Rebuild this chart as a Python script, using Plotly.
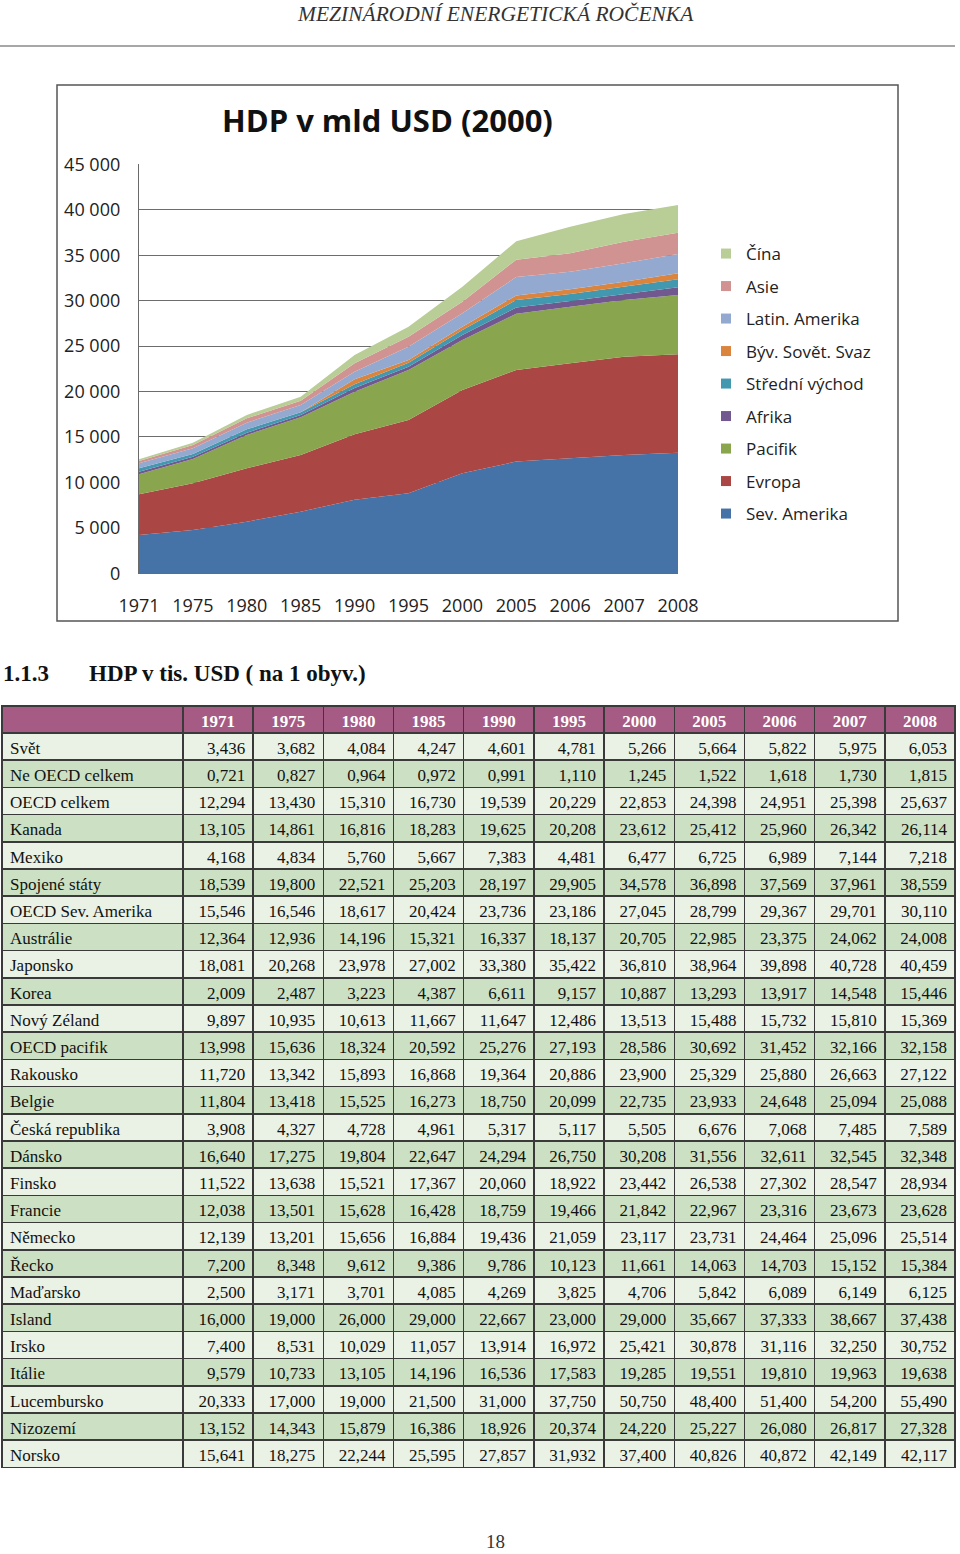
import plotly.graph_objects as go

W, H = 960, 1554

def px(x):
    return x / W

def py(y):
    return 1 - y / H

# ---------------- chart data (mld USD, 2000) ----------------
years = ["1971", "1975", "1980", "1985", "1990", "1995", "2000", "2005", "2006", "2007", "2008"]
sev_amerika = [4210, 4765, 5680, 6780, 8100, 8800, 11000, 12300, 12650, 13015, 13270]
evropa = [4480, 5135, 5870, 6235, 7200, 8070, 9170, 10070, 10450, 10815, 10820]
pacifik = [2200, 2670, 3670, 4145, 4680, 5500, 5500, 6180, 6230, 6240, 6530]
afrika = [290, 260, 250, 260, 420, 360, 550, 700, 630, 660, 850]
stredni_vychod = [370, 295, 370, 290, 400, 440, 550, 820, 770, 810, 880]
byv_sovet_svaz = [0, 0, 0, 0, 540, 300, 360, 500, 510, 540, 660]
latin_amerika = [550, 625, 730, 810, 840, 1460, 1470, 2030, 1940, 2030, 2120]
asie = [255, 365, 480, 470, 920, 1100, 1280, 1910, 2020, 2370, 2340]
cina = [185, 255, 370, 440, 920, 1100, 1650, 2030, 2930, 3050, 3050]

series_names = ["Sev. Amerika", "Evropa", "Pacifik", "Afrika", "Střední východ",
                "Býv. Sovět. Svaz", "Latin. Amerika", "Asie", "Čína"]
series_values = [sev_amerika, evropa, pacifik, afrika, stredni_vychod,
                 byv_sovet_svaz, latin_amerika, asie, cina]
series_colors = ["#4572A7", "#AA4643", "#89A54E", "#71588F", "#4198AF",
                 "#DB843D", "#93A9CF", "#D19392", "#B9CD96"]

# ---------------- table data (tis. USD na 1 obyv.) ----------------
table_years = ["1971", "1975", "1980", "1985", "1990", "1995", "2000", "2005", "2006", "2007", "2008"]
row_labels = ["Svět", "Ne OECD celkem", "OECD celkem", "Kanada", "Mexiko", "Spojené státy",
              "OECD Sev. Amerika", "Austrálie", "Japonsko", "Korea", "Nový Zéland",
              "OECD pacifik", "Rakousko", "Belgie", "Česká republika", "Dánsko", "Finsko",
              "Francie", "Německo", "Řecko", "Maďarsko", "Island", "Irsko", "Itálie",
              "Lucembursko", "Nizozemí", "Norsko"]
svet = [3.436, 3.682, 4.084, 4.247, 4.601, 4.781, 5.266, 5.664, 5.822, 5.975, 6.053]
ne_oecd = [0.721, 0.827, 0.964, 0.972, 0.991, 1.110, 1.245, 1.522, 1.618, 1.730, 1.815]
oecd = [12.294, 13.430, 15.310, 16.730, 19.539, 20.229, 22.853, 24.398, 24.951, 25.398, 25.637]
kanada = [13.105, 14.861, 16.816, 18.283, 19.625, 20.208, 23.612, 25.412, 25.960, 26.342, 26.114]
mexiko = [4.168, 4.834, 5.760, 5.667, 7.383, 4.481, 6.477, 6.725, 6.989, 7.144, 7.218]
usa = [18.539, 19.800, 22.521, 25.203, 28.197, 29.905, 34.578, 36.898, 37.569, 37.961, 38.559]
oecd_sev_amerika = [15.546, 16.546, 18.617, 20.424, 23.736, 23.186, 27.045, 28.799, 29.367, 29.701, 30.110]
australie = [12.364, 12.936, 14.196, 15.321, 16.337, 18.137, 20.705, 22.985, 23.375, 24.062, 24.008]
japonsko = [18.081, 20.268, 23.978, 27.002, 33.380, 35.422, 36.810, 38.964, 39.898, 40.728, 40.459]
korea = [2.009, 2.487, 3.223, 4.387, 6.611, 9.157, 10.887, 13.293, 13.917, 14.548, 15.446]
novy_zeland = [9.897, 10.935, 10.613, 11.667, 11.647, 12.486, 13.513, 15.488, 15.732, 15.810, 15.369]
oecd_pacifik = [13.998, 15.636, 18.324, 20.592, 25.276, 27.193, 28.586, 30.692, 31.452, 32.166, 32.158]
rakousko = [11.720, 13.342, 15.893, 16.868, 19.364, 20.886, 23.900, 25.329, 25.880, 26.663, 27.122]
belgie = [11.804, 13.418, 15.525, 16.273, 18.750, 20.099, 22.735, 23.933, 24.648, 25.094, 25.088]
cesko = [3.908, 4.327, 4.728, 4.961, 5.317, 5.117, 5.505, 6.676, 7.068, 7.485, 7.589]
dansko = [16.640, 17.275, 19.804, 22.647, 24.294, 26.750, 30.208, 31.556, 32.611, 32.545, 32.348]
finsko = [11.522, 13.638, 15.521, 17.367, 20.060, 18.922, 23.442, 26.538, 27.302, 28.547, 28.934]
francie = [12.038, 13.501, 15.628, 16.428, 18.759, 19.466, 21.842, 22.967, 23.316, 23.673, 23.628]
nemecko = [12.139, 13.201, 15.656, 16.884, 19.436, 21.059, 23.117, 23.731, 24.464, 25.096, 25.514]
recko = [7.200, 8.348, 9.612, 9.386, 9.786, 10.123, 11.661, 14.063, 14.703, 15.152, 15.384]
madarsko = [2.500, 3.171, 3.701, 4.085, 4.269, 3.825, 4.706, 5.842, 6.089, 6.149, 6.125]
island = [16.000, 19.000, 26.000, 29.000, 22.667, 23.000, 29.000, 35.667, 37.333, 38.667, 37.438]
irsko = [7.400, 8.531, 10.029, 11.057, 13.914, 16.972, 25.421, 30.878, 31.116, 32.250, 30.752]
italie = [9.579, 10.733, 13.105, 14.196, 16.536, 17.583, 19.285, 19.551, 19.810, 19.963, 19.638]
lucembursko = [20.333, 17.000, 19.000, 21.500, 31.000, 37.750, 50.750, 48.400, 51.400, 54.200, 55.490]
nizozemi = [13.152, 14.343, 15.879, 16.386, 18.926, 20.374, 24.220, 25.227, 26.080, 26.817, 27.328]
norsko = [15.641, 18.275, 22.244, 25.595, 27.857, 31.932, 37.400, 40.826, 40.872, 42.149, 42.117]

table_rows = [svet, ne_oecd, oecd, kanada, mexiko, usa, oecd_sev_amerika, australie, japonsko,
              korea, novy_zeland, oecd_pacifik, rakousko, belgie, cesko, dansko, finsko, francie,
              nemecko, recko, madarsko, island, irsko, italie, lucembursko, nizozemi, norsko]

def fmt(v):
    return f"{v:.3f}".replace(".", ",")

fig = go.Figure()

# stacked areas
for name, vals, col in zip(series_names, series_values, series_colors):
    fig.add_trace(go.Scatter(
        x=years, y=vals, name=name, mode="lines", stackgroup="one",
        line=dict(width=0, color=col), fillcolor=col, showlegend=False,
        hoverinfo="x+y+name"))

# legend entries (square markers), top entry = last stacked series
for i, (name, col) in enumerate(reversed(list(zip(series_names, series_colors)))):
    fig.add_trace(go.Scatter(
        x=[None], y=[None], name=name, mode="markers", legendgroup=f"g{i}",
        marker=dict(symbol="square", size=10, color=col), showlegend=True))

# table
n_cols = len(table_years)
cells_values = [row_labels] + [[fmt(r[j]) for r in table_rows] for j in range(n_cols)]
light, dark = "#EAF1E5", "#CCE1C3"
row_fill = [light if i % 2 == 0 else dark for i in range(len(row_labels))]
fig.add_trace(go.Table(
    domain=dict(x=[px(2), px(955)], y=[py(1470), py(706)]),
    columnwidth=[181] + [70.2] * n_cols,
    header=dict(values=[" "] + table_years,
                fill_color="#A65B84", align="center", height=27,
                line=dict(color="#3a3a3a", width=1.5),
                font=dict(family="Liberation Serif", size=17, color="white", weight="bold")),
    cells=dict(values=cells_values,
               fill_color=[row_fill] * (n_cols + 1),
               align=["left"] + ["right"] * n_cols, height=27.2,
               line=dict(color="#3a3a3a", width=1.5),
               font=dict(family="Liberation Serif", size=17, color="#111111")),
))

fig.update_layout(
    width=W, height=H, margin=dict(l=0, r=0, t=0, b=0, autoexpand=False),
    paper_bgcolor="white", plot_bgcolor="white",
    separators=", ",
    showlegend=True,
    legend=dict(x=px(706), y=py(236), xanchor="left", yanchor="top",
                traceorder="grouped", tracegroupgap=7.4,
                font=dict(family="Open Sans", size=17, color="#222222"),
                bgcolor="rgba(0,0,0,0)"),
    xaxis=dict(domain=[px(139), px(678)], range=[0, 10], type="category",
               showgrid=False, showline=True, linecolor="#6a6a6a", linewidth=1.3,
               ticks="", ticklabelstandoff=16, automargin=False,
               tickfont=dict(family="Open Sans", size=18, color="#222222"),
               fixedrange=True),
    yaxis=dict(domain=[py(573.3), py(164.3)], range=[0, 45000],
               tickvals=list(range(0, 45001, 5000)), tickformat=",d",
               showgrid=True, gridcolor="#6d6d6d", gridwidth=1.3,
               showline=True, linecolor="#6a6a6a", linewidth=1.3,
               ticks="", ticklabelstandoff=14, zeroline=False, automargin=False,
               tickfont=dict(family="Open Sans", size=18, color="#222222"),
               fixedrange=True),
    shapes=[
        dict(type="line", xref="paper", yref="paper", x0=px(0), x1=px(955),
             y0=py(46), y1=py(46), line=dict(color="#8a8a8a", width=1.5)),
        dict(type="rect", xref="paper", yref="paper", x0=px(57), x1=px(898),
             y0=py(621), y1=py(85), line=dict(color="#555555", width=1.5)),
    ],
    annotations=[
        dict(text="MEZINÁRODNÍ ENERGETICKÁ ROČENKA", x=px(495), y=py(14),
             xref="paper", yref="paper", xanchor="center", yanchor="middle", showarrow=False,
             font=dict(family="Liberation Serif", size=21.5, color="#333333", style="italic")),
        dict(text="<b>HDP v mld USD (2000)</b>", x=px(387), y=py(120),
             xref="paper", yref="paper", xanchor="center", yanchor="middle", showarrow=False,
             font=dict(family="Open Sans", size=31, color="#111111")),
        dict(text="<b>1.1.3</b>", x=px(1), y=py(673),
             xref="paper", yref="paper", xanchor="left", yanchor="middle", showarrow=False,
             font=dict(family="Liberation Serif", size=23, color="#111111")),
        dict(text="<b>HDP v tis. USD ( na 1 obyv.)</b>", x=px(87), y=py(673),
             xref="paper", yref="paper", xanchor="left", yanchor="middle", showarrow=False,
             font=dict(family="Liberation Serif", size=23, color="#111111")),
        dict(text="18", x=px(495), y=py(1553), borderpad=0,
             xref="paper", yref="paper", xanchor="center", yanchor="bottom", showarrow=False,
             font=dict(family="Liberation Serif", size=19, color="#333333")),
    ],
)

fig.write_html("out.html", post_script="document.body.style.margin='0';",
               config={"displayModeBar": False})
